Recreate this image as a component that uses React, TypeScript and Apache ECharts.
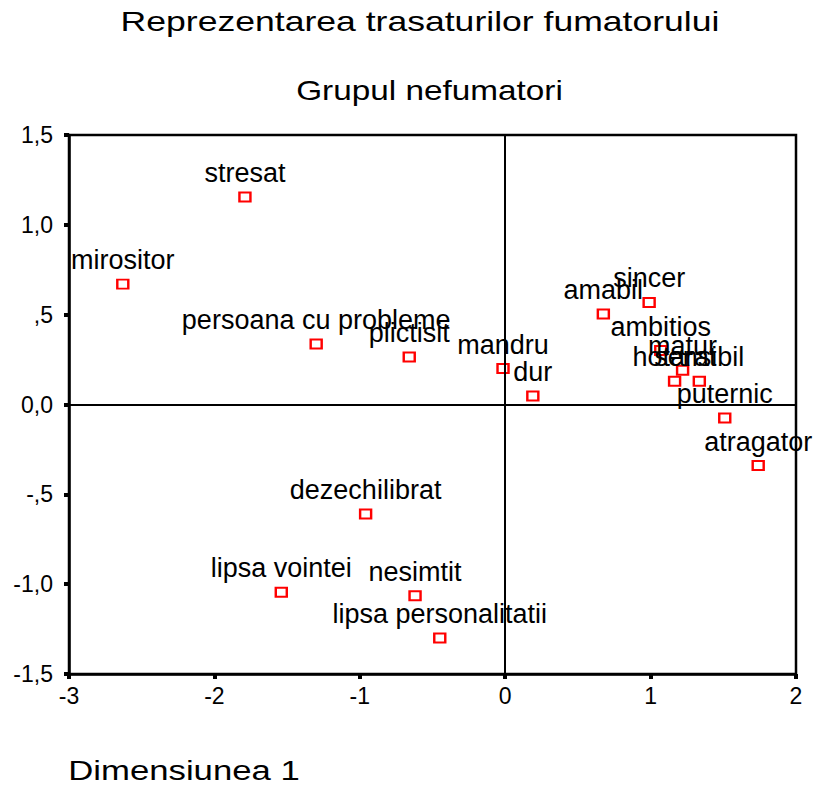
import React, { useEffect, useRef } from "react";
import * as echarts from "echarts";

const traitNames = [
  "stresat", "mirositor", "persoana cu probleme", "plictisit", "mandru", "dur",
  "amabil", "sincer", "ambitios", "matur", "hotarat", "sensibil", "puternic",
  "atragator", "dezechilibrat", "lipsa vointei", "nesimtit", "lipsa personalitatii",
];
const dim1Values = [
  -1.79, -2.63, -1.3, -0.66, -0.015, 0.19,
  0.675, 0.99, 1.07, 1.22, 1.165, 1.335, 1.51,
  1.74, -0.96, -1.54, -0.62, -0.45,
];
const dim2Values = [
  1.155, 0.67, 0.337, 0.264, 0.2, 0.047,
  0.504, 0.568, 0.3, 0.19, 0.13, 0.13, -0.075,
  -0.34, -0.61, -1.045, -1.065, -1.3,
];
const xTicks = { min: -3, max: 2, interval: 1 };
const yTicks = { min: -1.5, max: 1.5, interval: 0.5 };
const titleLines = ["Reprezentarea trasaturilor fumatorului", "Grupul nefumatori"];
const xAxisTitle = "Dimensiunea 1";

const FONT = '"Liberation Sans", Arial, Helvetica, sans-serif';

function fmtY(v: number): string {
  if (Math.abs(v) < 1e-9) return "0,0";
  let s = Math.abs(v).toFixed(1).replace(".", ",");
  if (s.startsWith("0,")) s = s.slice(1);
  return (v < 0 ? "-" : "") + s;
}

export default function App() {
  const ref = useRef<HTMLDivElement>(null);
  useEffect(() => {
    document.body.style.margin = "0";
    if (!ref.current) return;
    const chart = echarts.init(ref.current, null, { renderer: "svg" });
    const data = traitNames.map((n, i) => ({ name: n, value: [dim1Values[i], dim2Values[i]] }));
    chart.setOption({
      animation: false,
      backgroundColor: "#fff",
      grid: {
        left: 69, top: 135, width: 727, height: 539,
        show: true, borderColor: "#000", borderWidth: 2.5, backgroundColor: "transparent",
      },
      xAxis: {
        type: "value", min: xTicks.min, max: xTicks.max, interval: xTicks.interval,
        splitLine: { show: false },
        axisLine: { show: true, onZero: false, lineStyle: { color: "#000", width: 2.5 } },
        axisTick: { show: true, length: 5, lineStyle: { color: "#000", width: 4 } },
        axisLabel: { color: "#000", fontSize: 23, fontFamily: FONT, margin: 10 },
      },
      yAxis: {
        type: "value", min: yTicks.min, max: yTicks.max, interval: yTicks.interval,
        splitLine: { show: false },
        axisLine: { show: true, onZero: false, lineStyle: { color: "#000", width: 2.5 } },
        axisTick: { show: true, length: 5, lineStyle: { color: "#000", width: 4 } },
        axisLabel: { color: "#000", fontSize: 23, fontFamily: FONT, margin: 16, formatter: fmtY },
      },
      graphic: [
        {
          type: "text", x: 420, y: 21, scaleX: 1.27,
          style: { text: titleLines[0], font: `28px ${FONT}`, fill: "#000", align: "center", verticalAlign: "middle" },
        },
        {
          type: "text", x: 429.5, y: 90, scaleX: 1.19,
          style: { text: titleLines[1], font: `28px ${FONT}`, fill: "#000", align: "center", verticalAlign: "middle" },
        },
        {
          type: "text", x: 184, y: 770, scaleX: 1.24,
          style: {
            text: xAxisTitle, font: `28px ${FONT}`, lineHeight: 22, fill: "#000",
            align: "center", verticalAlign: "middle",
          },
        },
      ],
      series: [
        {
          type: "scatter",
          data,
          symbol: "rect",
          symbolSize: [11, 9],
          itemStyle: { color: "rgba(0,0,0,0)", borderColor: "#ff0000", borderWidth: 2.2, opacity: 1 },
          label: {
            show: true, position: "top", distance: 5, formatter: "{b}",
            color: "#000", fontSize: 27, fontFamily: FONT,
          },
          markLine: {
            silent: true, symbol: ["none", "none"], label: { show: false },
            lineStyle: { color: "#000", width: 2, type: "solid" },
            data: [{ xAxis: 0 }, { yAxis: 0 }],
          },
        },
      ],
    });
    return () => chart.dispose();
  }, []);
  return <div ref={ref} style={{ width: 819, height: 785 }} />;
}
